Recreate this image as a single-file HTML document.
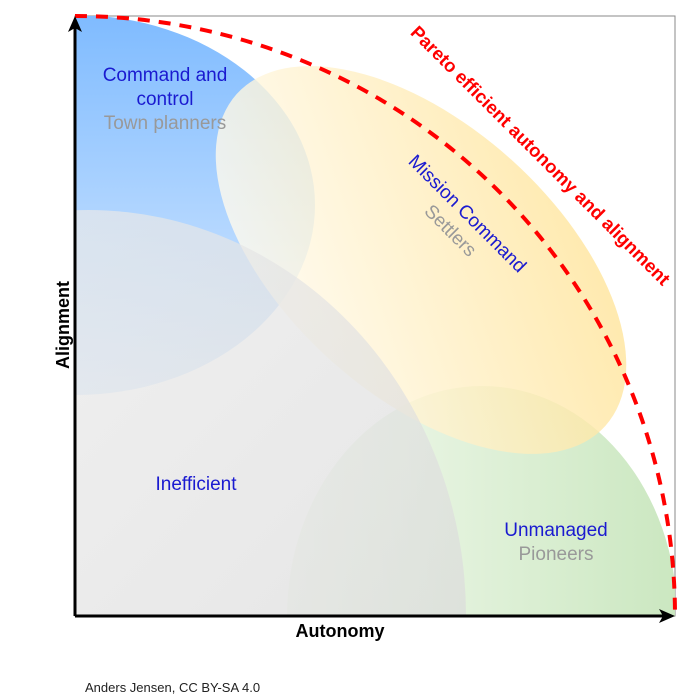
<!DOCTYPE html>
<html><head><style>
html,body{margin:0;padding:0;width:700px;height:700px;background:#fff;overflow:hidden;font-family:"Liberation Sans",Arial,sans-serif}
svg{display:block}
</style></head><body>
<svg width="700" height="700" viewBox="0 0 700 700" xmlns="http://www.w3.org/2000/svg">
<defs>
<clipPath id="c"><rect x="75" y="16" width="600" height="600"/></clipPath>
<linearGradient id="gb" x1="0" y1="0" x2="0" y2="1"><stop offset="0" stop-color="#7fbbff"/><stop offset="1" stop-color="#dcecff"/></linearGradient>
<linearGradient id="gg" x1="1" y1="1" x2="0" y2="0"><stop offset="0" stop-color="#d4d4d4"/><stop offset="1" stop-color="#f0f0f0"/></linearGradient>
<linearGradient id="ggr" x1="1" y1="0" x2="0" y2="0"><stop offset="0" stop-color="#c8e6bd"/><stop offset="1" stop-color="#f4faf0"/></linearGradient>
<linearGradient id="gy" x1="1" y1="0" x2="0" y2="1"><stop offset="0" stop-color="#ffe08a"/><stop offset="1" stop-color="#ffffff"/></linearGradient>
</defs>
<rect x="75" y="16" width="600" height="600" fill="none" stroke="#888" stroke-width="1"/>
<g clip-path="url(#c)">
<ellipse cx="75" cy="205" rx="240" ry="190" fill="url(#gb)"/>
<ellipse cx="482" cy="616" rx="195" ry="230" fill="url(#ggr)" opacity="0.95"/>
<ellipse cx="421" cy="260" rx="248" ry="135" transform="rotate(42 421 260)" fill="url(#gy)" opacity="0.8"/>
<ellipse cx="88" cy="616" rx="378" ry="406" fill="url(#gg)" opacity="0.7"/>
</g>
<path d="M75 16 A600 600 0 0 1 675 616" fill="none" stroke="#f00" stroke-width="4" stroke-dasharray="12 9"/>
<line x1="75" y1="616" x2="75" y2="22" stroke="#000" stroke-width="3"/>
<path d="M68 32 L75 16 L82 32 L75 28 Z" fill="#000"/>
<line x1="75" y1="616" x2="668" y2="616" stroke="#000" stroke-width="3"/>
<path d="M659 609 L675 616 L659 623 L663 616 Z" fill="#000"/>
<g font-size="19" text-anchor="middle">
<text x="165" y="81" fill="#1a1ad0">Command and</text>
<text x="165" y="105" fill="#1a1ad0">control</text>
<text x="165" y="129" fill="#999">Town planners</text>
<text x="196" y="490" fill="#1a1ad0">Inefficient</text>
<text x="556" y="536" fill="#1a1ad0">Unmanaged</text>
<text x="556" y="560" fill="#999">Pioneers</text>
<g transform="translate(463,218) rotate(45)"><text x="0" y="0" fill="#1a1ad0">Mission Command</text><text x="0" y="24" fill="#999">Settlers</text></g>
</g>
<text transform="translate(536,160) rotate(45)" text-anchor="middle" font-size="18.5" font-weight="bold" fill="#f00">Pareto efficient autonomy and alignment</text>
<text x="340" y="637" text-anchor="middle" font-size="18" font-weight="bold">Autonomy</text>
<text transform="translate(69,325) rotate(-90)" text-anchor="middle" font-size="18" font-weight="bold">Alignment</text>
<text x="85" y="692" font-size="13" fill="#222">Anders Jensen, CC BY-SA 4.0</text>
</svg>
</body></html>
